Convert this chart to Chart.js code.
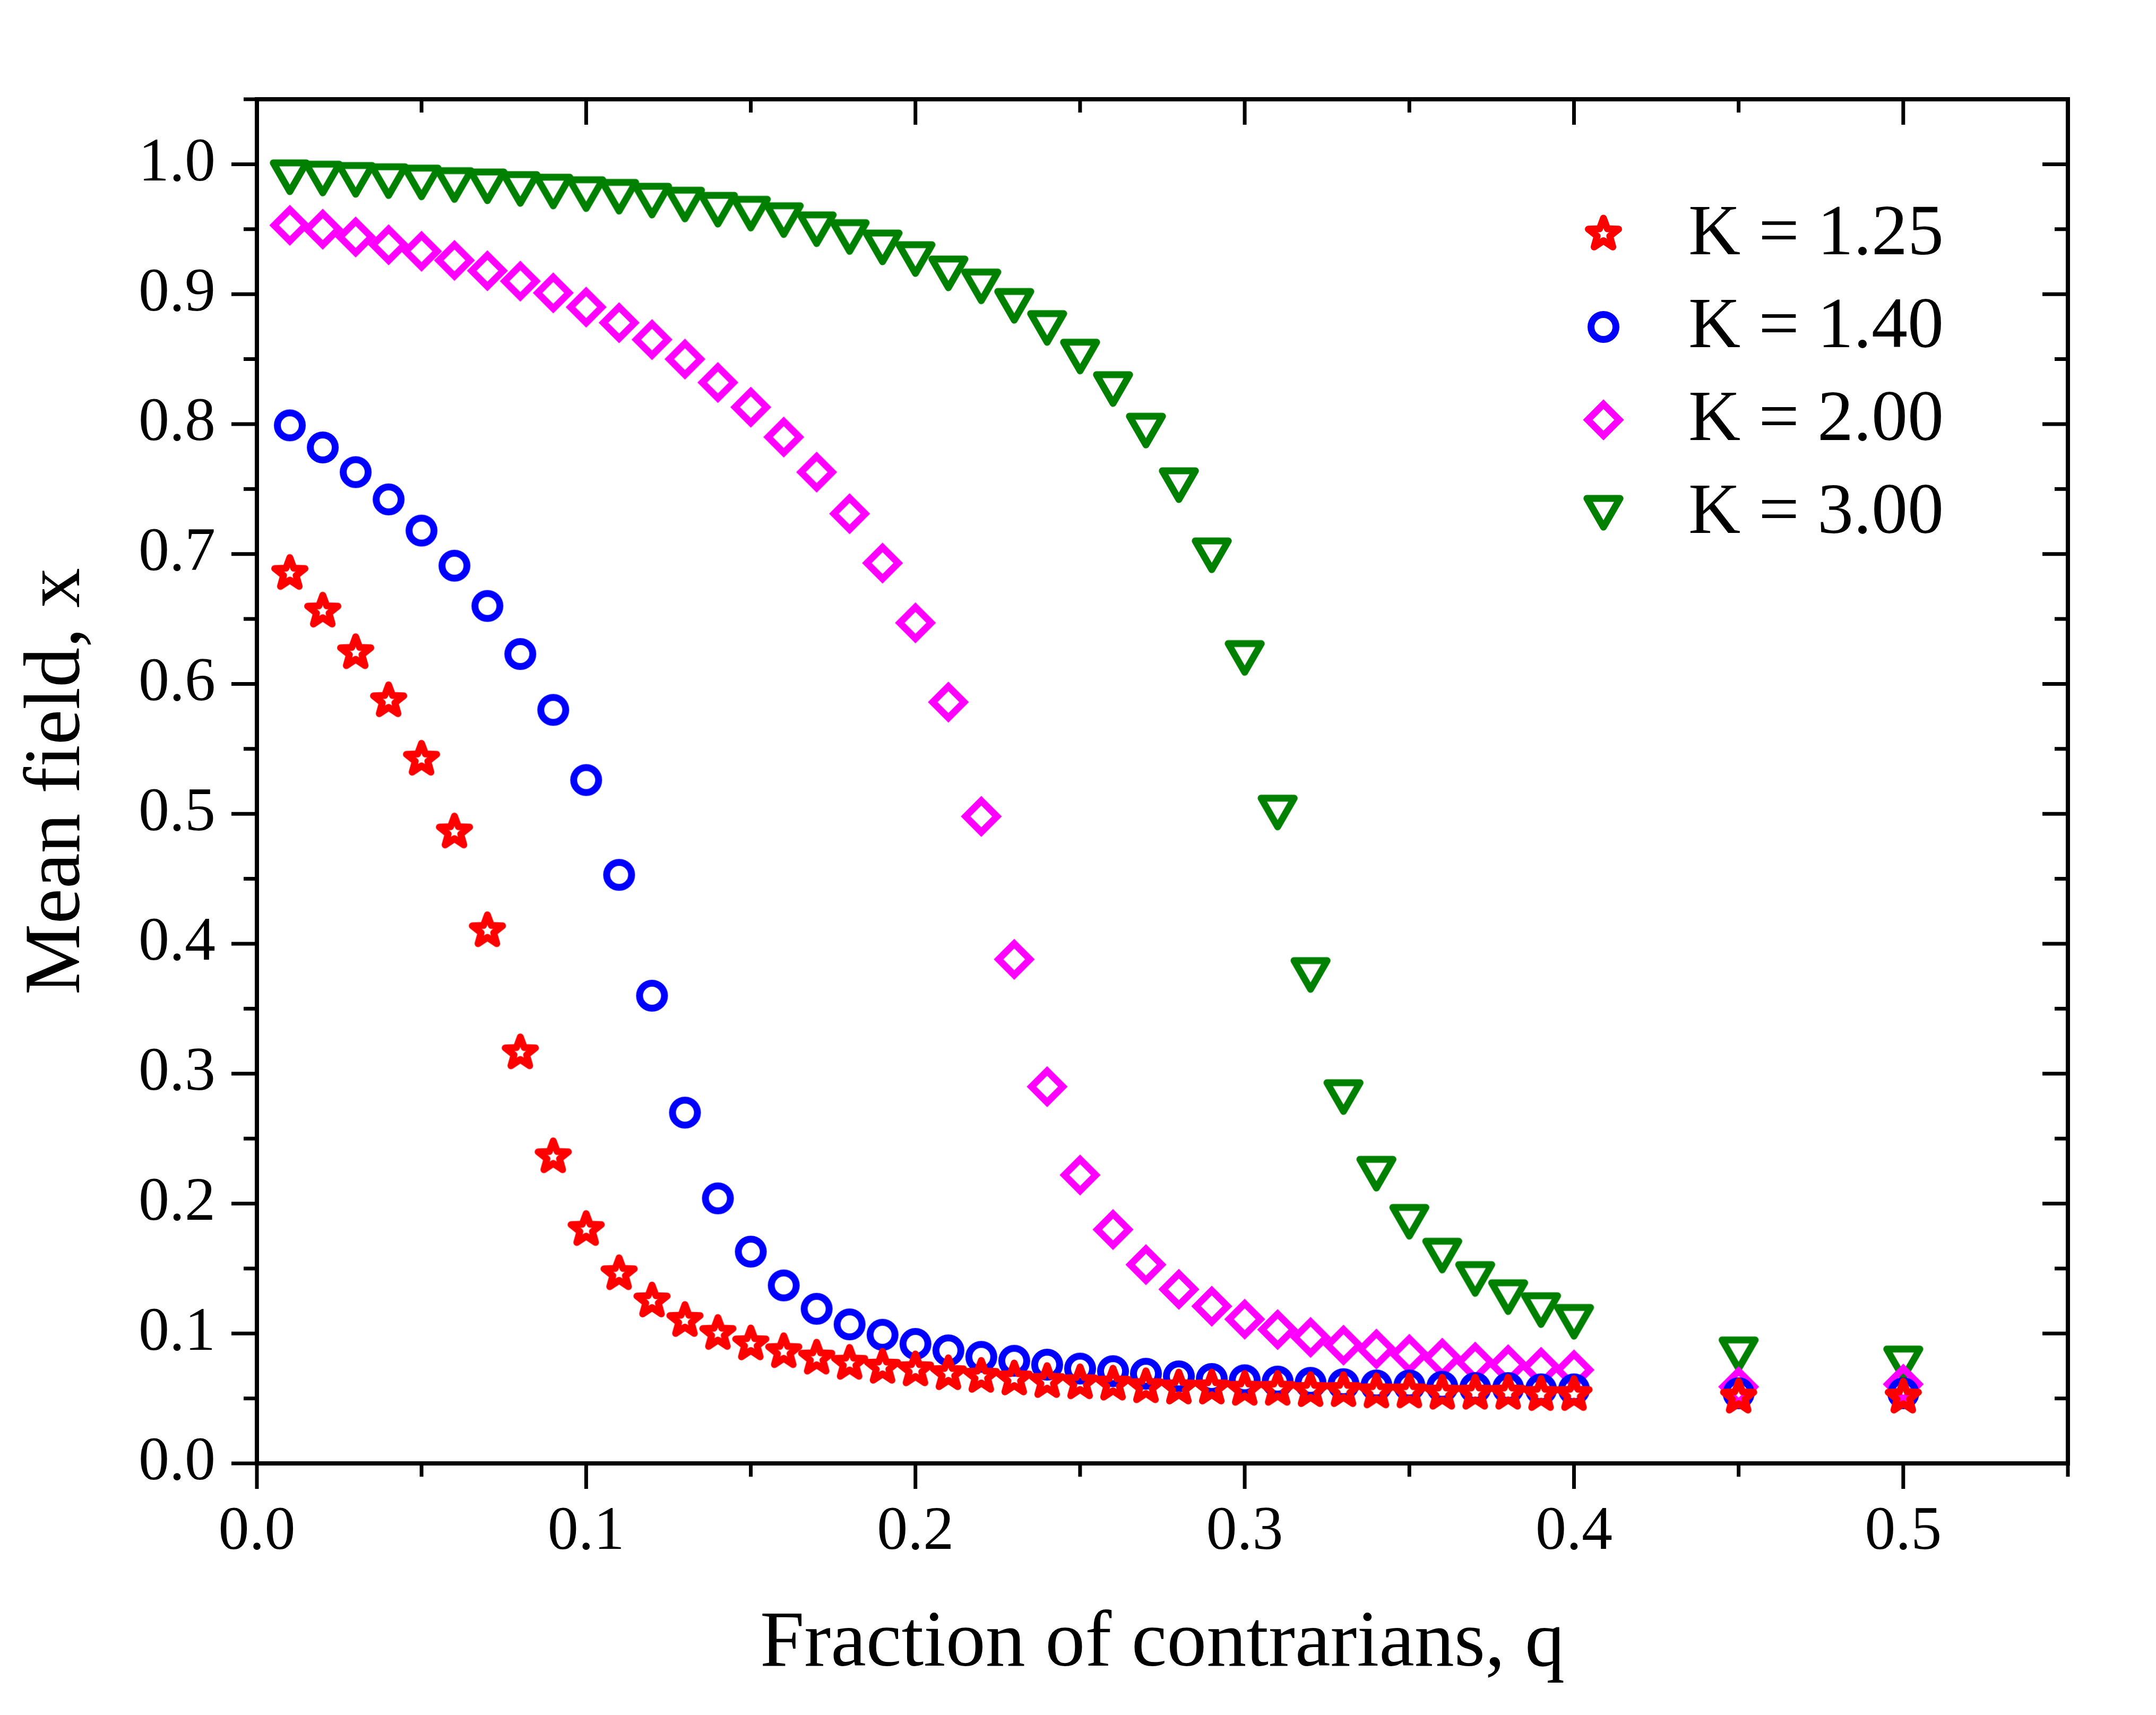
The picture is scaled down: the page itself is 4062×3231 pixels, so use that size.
<!DOCTYPE html>
<html>
<head>
<meta charset="utf-8">
<title>Mean field vs fraction of contrarians</title>
<script src="https://cdn.jsdelivr.net/npm/chart.js@4.4.0/dist/chart.umd.min.js"></script>
<style>
    html, body { margin: 0; padding: 0; background: #fff; }
    #wrap { width: 4062px; height: 3231px; }
</style>
</head>
<body>
<div id="wrap"><canvas id="myChart" width="4062" height="3231"></canvas></div>
<script>
// fraction of contrarians q (x values)
const qValues = [
    0.01, 0.02, 0.03, 0.04, 0.05, 0.06, 0.07, 0.08, 0.09, 0.10,
    0.11, 0.12, 0.13, 0.14, 0.15, 0.16, 0.17, 0.18, 0.19, 0.20,
    0.21, 0.22, 0.23, 0.24, 0.25, 0.26, 0.27, 0.28, 0.29, 0.30,
    0.31, 0.32, 0.33, 0.34, 0.35, 0.36, 0.37, 0.38, 0.39, 0.40,
    0.45, 0.50
]

// mean field x, one list per K
const k125 = [
    0.685, 0.656, 0.624, 0.587, 0.542, 0.486, 0.410, 0.316, 0.236, 0.180,
    0.146, 0.125, 0.110, 0.100, 0.092, 0.086, 0.081, 0.077, 0.074, 0.072,
    0.069, 0.067, 0.065, 0.063, 0.062, 0.061, 0.059, 0.058, 0.058, 0.057,
    0.057, 0.056, 0.056, 0.055, 0.055, 0.054, 0.054, 0.054, 0.053, 0.053,
    0.051, 0.051
]
const k140 = [
    0.799, 0.782, 0.763, 0.742, 0.718, 0.691, 0.660, 0.623, 0.580, 0.526,
    0.453, 0.360, 0.270, 0.204, 0.163, 0.137, 0.119, 0.107, 0.099, 0.092,
    0.087, 0.082, 0.079, 0.076, 0.073, 0.071, 0.069, 0.067, 0.065, 0.064,
    0.063, 0.062, 0.061, 0.060, 0.060, 0.059, 0.058, 0.058, 0.057, 0.057,
    0.054, 0.054
]
const k200 = [
    0.953, 0.950, 0.944, 0.938, 0.933, 0.926, 0.918, 0.910, 0.901, 0.890,
    0.878, 0.865, 0.850, 0.832, 0.813, 0.790, 0.763, 0.731, 0.693, 0.647,
    0.586, 0.498, 0.388, 0.290, 0.222, 0.180, 0.153, 0.134, 0.121, 0.111,
    0.103, 0.097, 0.091, 0.088, 0.084, 0.081, 0.078, 0.076, 0.074, 0.072,
    0.059, 0.061
]
const k300 = [
    0.990, 0.989, 0.988, 0.987, 0.986, 0.984, 0.983, 0.981, 0.979, 0.977,
    0.975, 0.972, 0.969, 0.965, 0.962, 0.957, 0.950, 0.944, 0.936, 0.927,
    0.916, 0.906, 0.891, 0.874, 0.852, 0.827, 0.795, 0.753, 0.699, 0.620,
    0.501, 0.376, 0.282, 0.223, 0.186, 0.160, 0.142, 0.128, 0.118, 0.109,
    0.084, 0.077
]

const seriesLabels = ['K = 1.25', 'K = 1.40', 'K = 2.00', 'K = 3.00']
const seriesValues = [k125, k140, k200, k300]

const FONT = '"Liberation Serif", "Times New Roman", serif'

function isMajor(v) {
    return Math.abs(v * 10 - Math.round(v * 10)) < 1e-6
}

/**
 * hollow marker drawn on a small canvas, used as pointStyle
 */
function makeMarker(color, draw) {
    const c = document.createElement('canvas')
    c.width = 90
    c.height = 90
    const ctx = c.getContext('2d')
    ctx.translate(45, 45)
    ctx.strokeStyle = color
    ctx.lineWidth = 13
    ctx.beginPath()
    draw(ctx)
    ctx.closePath()
    ctx.stroke()
    return c
}

const starMarker = makeMarker('#ff0000', ctx => {
    ctx.lineJoin = 'round'
    for (let i = 0; i < 10; i++) {
        const r = i % 2 === 0 ? 30 : 12.5
        const a = -Math.PI / 2 + i * Math.PI / 5
        ctx.lineTo(r * Math.cos(a), r * Math.sin(a))
    }
})
const circleMarker = makeMarker('#0000ff', ctx => {
    ctx.arc(0, 0, 23.5, 0, Math.PI * 2)
})
const diamondMarker = makeMarker('#ff00ff', ctx => {
    ctx.moveTo(0, -29.5)
    ctx.lineTo(29.5, 0)
    ctx.lineTo(0, 29.5)
    ctx.lineTo(-29.5, 0)
})
const triangleMarker = makeMarker('#008000', ctx => {
    // down-pointing, bounding box centred
    const r = 36
    const dy = -r / 4
    ctx.lineJoin = 'round'
    ctx.moveTo(0, r + dy)
    ctx.lineTo(-r * Math.sin(Math.PI / 3), -r / 2 + dy)
    ctx.lineTo(r * Math.sin(Math.PI / 3), -r / 2 + dy)
})
const markers = [starMarker, circleMarker, diamondMarker, triangleMarker]

// frame with outward ticks on left/bottom, inward ticks on top/right
const framePlugin = {
    id: 'frame',
    afterDraw(chart) {
        const {ctx, chartArea: a, scales: {x, y}} = chart
        ctx.save()
        ctx.strokeStyle = '#000'
        ctx.lineWidth = 7
        const line = (x1, y1, x2, y2) => {
            ctx.beginPath()
            ctx.moveTo(x1, y1)
            ctx.lineTo(x2, y2)
            ctx.stroke()
        }
        x.ticks.forEach(t => {
            const px = x.getPixelForValue(t.value)
            const len = isMajor(t.value) ? 48 : 25
            line(px, a.bottom, px, a.bottom + len)
            line(px, a.top, px, a.top + len)
        })
        y.ticks.forEach(t => {
            const py = y.getPixelForValue(t.value)
            const len = isMajor(t.value) ? 48 : 25
            line(a.left, py, a.left - len, py)
            line(a.right, py, a.right - len, py)
        })
        ctx.lineWidth = 8
        ctx.strokeRect(a.left, a.top, a.right - a.left, a.bottom - a.top)
        ctx.restore()
    }
}

// legend in the upper right of the plot area
const legendPlugin = {
    id: 'plotLegend',
    afterDatasetsDraw(chart) {
        const {ctx, chartArea} = chart
        ctx.save()
        ctx.font = '136px ' + FONT
        ctx.fillStyle = '#000'
        ctx.textBaseline = 'alphabetic'
        chart.data.datasets.forEach((ds, i) => {
            const mx = chartArea.right - 875
            const my = chartArea.top + 254 + i * 175
            const img = ds.pointStyle
            ctx.drawImage(img, mx - img.width / 2, my - img.height / 2)
            ctx.fillText(ds.label, mx + 160, my + 38)
        })
        ctx.restore()
    }
}

const datasets = seriesLabels.map((label, i) => ({
    label: label,
    data: qValues.map((q, j) => ({x: q, y: seriesValues[i][j]})),
    pointStyle: markers[i],
    pointRadius: 30,
    showLine: false
}))

Chart.defaults.font.family = FONT
Chart.defaults.color = '#000'

const config = {
    type: 'scatter',
    data: {datasets: datasets},
    options: {
        responsive: false,
        devicePixelRatio: 1,
        animation: false,
        events: [],
        layout: {
            padding: {top: 187, right: 166, left: 0, bottom: 0}
        },
        plugins: {
            legend: {display: false},
            tooltip: {enabled: false}
        },
        scales: {
            x: {
                type: 'linear',
                min: 0,
                max: 0.55,
                grid: {display: false, drawTicks: false},
                border: {display: false},
                ticks: {
                    stepSize: 0.05,
                    autoSkip: false,
                    maxRotation: 0,
                    padding: 61,
                    font: {size: 116},
                    callback: v => isMajor(v) ? v.toFixed(1) : ''
                },
                title: {
                    display: true,
                    text: 'Fraction of contrarians, q',
                    font: {size: 150},
                    padding: {bottom: 42}
                },
                afterFit(scale) {
                    scale.height = 474
                }
            },
            y: {
                type: 'linear',
                min: 0,
                max: 1.05,
                grid: {display: false, drawTicks: false},
                border: {display: false},
                ticks: {
                    stepSize: 0.05,
                    autoSkip: false,
                    padding: 78,
                    font: {size: 116},
                    callback: v => isMajor(v) ? v.toFixed(1) : ''
                },
                title: {
                    display: true,
                    text: 'Mean field, x',
                    font: {size: 150},
                    padding: {top: 20}
                },
                afterFit(scale) {
                    scale.width = 484
                }
            }
        }
    },
    plugins: [framePlugin, legendPlugin]
}

let myChart = new Chart(document.getElementById('myChart'), config)
</script>
</body>
</html>
